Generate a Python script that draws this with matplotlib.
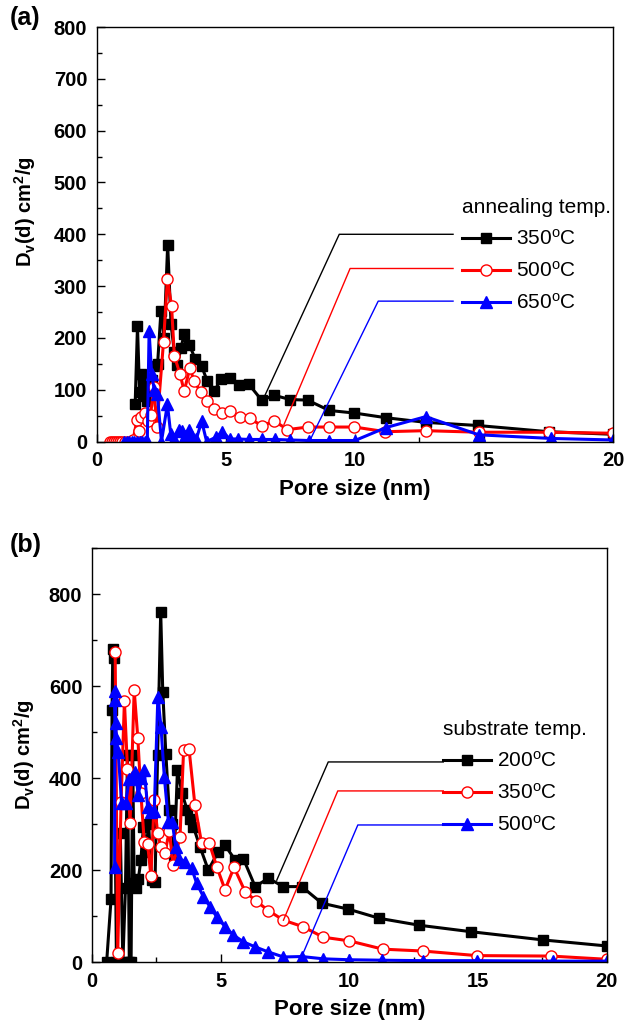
import matplotlib
matplotlib.use("Agg")
import matplotlib.pyplot as plt
from matplotlib.ticker import MultipleLocator

plt.rcParams['font.family'] = ['Liberation Sans', 'DejaVu Sans']
plt.rcParams['mathtext.fontset'] = 'custom'
plt.rcParams['mathtext.rm'] = 'Liberation Sans'
plt.rcParams['mathtext.it'] = 'Liberation Sans:italic'
plt.rcParams['mathtext.bf'] = 'Liberation Sans:bold'

# ---- panel (a): annealing temperature ----
a350_x = [1.48, 1.57, 1.65, 1.72, 1.78, 1.85, 1.93, 2.02, 2.12, 2.22, 2.35, 2.48, 2.6, 2.74, 2.87,
          3.0, 3.12, 3.25, 3.38, 3.58, 3.8, 4.06, 4.28, 4.54, 4.82, 5.16, 5.5, 5.88, 6.38, 6.88,
          7.5, 8.16, 9.0, 9.98, 11.2, 12.75, 14.75, 17.5, 20.0]
a350_y = [72, 223, 95, 130, 88, 115, 78, 100, 118, 145, 150, 252, 200, 380, 227,
          172, 148, 180, 207, 187, 160, 145, 116, 97, 121, 123, 110, 111, 80, 89,
          81, 80, 60, 55, 46, 37, 31, 19, 14]

a500_x = [0.5, 0.58, 0.66, 0.74, 0.82, 0.9, 0.98, 1.1, 1.25, 1.4, 1.55, 1.63, 1.72, 1.85, 1.97,
          2.08, 2.2, 2.32, 2.58, 2.73, 2.89, 3.0, 3.22, 3.38, 3.6, 3.77, 4.03, 4.25, 4.54, 4.84,
          5.15, 5.54, 5.93, 6.39, 6.87, 7.38, 8.17, 9.0, 9.98, 11.18, 12.74, 14.8, 17.5, 20.0]
a500_y = [0, 0, 0, 0, 0, 0, 0, 0, 0, 3, 42, 20, 48, 55, 40,
          52, 106, 29, 193, 314, 262, 165, 130, 97, 142, 116, 95, 79, 62, 56,
          58, 48, 45, 30, 40, 23, 28, 28, 28, 19, 21, 18, 18, 16]

a650_x = [1.05, 1.15, 1.25, 1.35, 1.45, 1.55, 1.65, 1.75, 1.85, 1.95, 2.02, 2.12, 2.22, 2.34,
          2.5, 2.73, 2.86, 3.0, 3.16, 3.3, 3.42, 3.55, 3.7, 3.85, 4.06, 4.25, 4.6, 4.86, 5.15,
          5.45, 5.9, 6.4, 6.9, 7.5, 8.2, 9.0, 10.0, 11.2, 12.74, 14.8, 17.6, 20.0]
a650_y = [0, 0, 0, 0, 0, 0, 0, 0, 0, 2, 213, 130, 100, 91,
          0, 72, 14, 5, 23, 20, 10, 23, 8, 5, 39, 0, 8, 19, 5,
          5, 4, 4, 4, 3, 2, 2, 2, 27, 48, 13, 6, 3]

# ---- panel (b): substrate temperature ----
b200_x = [0.57, 0.74, 0.78, 0.81, 0.84, 0.95, 1.1, 1.2, 1.3, 1.38, 1.45, 1.52, 1.58, 1.64, 1.72,
          1.8, 1.9, 2.0, 2.1, 2.2, 2.32, 2.45, 2.55, 2.67, 2.75, 2.87, 3.0, 3.1, 3.2, 3.32,
          3.5, 3.7, 3.81, 3.94, 4.2, 4.52, 4.91, 5.17, 5.56, 5.88, 6.34, 6.85, 7.44, 8.15,
          8.93, 9.96, 11.17, 12.72, 14.72, 17.54, 20.0]
b200_y = [0, 136, 548, 680, 660, 0, 280, 0, 160, 450, 0, 0, 450, 171, 160,
          180, 222, 294, 240, 301, 178, 175, 450, 762, 588, 453, 330, 301, 233, 417,
          367, 330, 312, 294, 250, 200, 240, 254, 222, 225, 164, 182, 164, 164,
          128, 115, 95, 80, 66, 48, 35]

b350_x = [0.9, 1.0, 1.13, 1.26, 1.38, 1.48, 1.64, 1.78, 1.9, 2.03, 2.16, 2.29, 2.42, 2.55, 2.68,
          2.84, 3.0, 3.16, 3.42, 3.56, 3.77, 4.0, 4.26, 4.56, 4.85, 5.17, 5.52, 5.95, 6.37, 6.85,
          7.44, 8.19, 8.99, 10.0, 11.3, 12.85, 14.95, 17.83, 20.0]
b350_y = [675, 19, 348, 567, 420, 303, 591, 488, 367, 262, 257, 187, 352, 280, 250,
          237, 285, 211, 272, 461, 464, 341, 258, 258, 207, 157, 206, 153, 133, 112,
          91, 77, 54, 46, 28, 24, 14, 13, 6]

b500_x = [0.88, 0.89, 0.9, 0.92, 0.95, 1.02, 1.15, 1.31, 1.45, 1.56, 1.68, 1.8, 1.92, 2.03, 2.16,
          2.3, 2.42, 2.56, 2.68, 2.81, 2.97, 3.12, 3.25, 3.38, 3.61, 3.87, 4.07, 4.33, 4.59, 4.85,
          5.17, 5.49, 5.88, 6.34, 6.85, 7.44, 8.15, 8.99, 10.0, 11.26, 12.85, 14.95, 17.9, 20.0]
b500_y = [207, 590, 570, 520, 486, 457, 345, 346, 399, 403, 414, 363, 400, 417, 338,
          327, 329, 577, 512, 403, 305, 305, 250, 225, 218, 204, 171, 142, 120, 98,
          77, 59, 44, 33, 22, 11, 12, 7, 5, 4, 3, 3, 2, 2]

labels_a = [r'350$^{\mathrm{o}}$C', r'500$^{\mathrm{o}}$C', r'650$^{\mathrm{o}}$C']
labels_b = [r'200$^{\mathrm{o}}$C', r'350$^{\mathrm{o}}$C', r'500$^{\mathrm{o}}$C']

# leader lines from legend entries to curves (data coords)
lead_a = [([13.8, 9.39, 6.5], [400, 400, 88]),
          ([13.8, 9.81, 7.25], [334, 334, 33]),
          ([13.8, 10.9, 8.26], [271, 271, 3])]
lead_b = [([13.65, 9.18, 7.18], [435, 435, 178]),
          ([13.65, 9.55, 7.44], [372, 372, 91]),
          ([13.65, 10.33, 8.15], [298, 298, 12])]

colors = ['black', 'red', 'blue']
styles = [dict(marker='s', ms=6.5, mfc='black', mec='black'),
          dict(marker='o', ms=8, mfc='white', mec='red', mew=1.0),
          dict(marker='^', ms=8, mfc='blue', mec='blue')]

fig = plt.figure(figsize=(6.24, 10.24), dpi=100)
ax1 = fig.add_axes([0.1554, 0.5688, 0.827, 0.4048])
ax2 = fig.add_axes([0.1474, 0.0605, 0.8249, 0.4043])


def draw(ax, series, labels, leads, title, ymax, ymaj, ymin, leg_xy, ylab_xy):
    handles = []
    for (xs, ys), c, st, lab in zip(series, colors, styles, labels):
        h, = ax.plot(xs, ys, color=c, lw=2.2, label=lab, **st)
        handles.append(h)
    for (lx, ly), c in zip(leads, colors):
        ax.plot(lx, ly, color=c, lw=1.0)
    ax.set_xlim(0, 20)
    ax.set_ylim(0, ymax)
    ax.xaxis.set_major_locator(MultipleLocator(5))
    ax.xaxis.set_minor_locator(MultipleLocator(2.5))
    ax.yaxis.set_major_locator(MultipleLocator(ymaj))
    ax.yaxis.set_minor_locator(MultipleLocator(ymin))
    ax.tick_params(which='both', direction='in', top=False, right=False)
    ax.tick_params(which='major', length=6, width=1, labelsize=14.5, pad=7)
    ax.tick_params(which='minor', length=3.5, width=1)
    for lbl in ax.get_xticklabels() + ax.get_yticklabels():
        lbl.set_fontweight('bold')
    for sp in ax.spines.values():
        sp.set_linewidth(1.0)
    ax.set_xlabel('Pore size (nm)', fontsize=16, fontweight='bold', labelpad=6)
    ax.set_ylabel(r'D$_\mathbf{v}$(d) cm$^\mathbf{2}$/g', fontsize=14.5, fontweight='bold')
    ax.yaxis.set_label_coords(*ylab_xy)
    ax.legend(handles=handles, loc='upper left', bbox_to_anchor=leg_xy, frameon=False,
              title=title, title_fontsize=15, fontsize=15, alignment='left',
              handlelength=2.3, handletextpad=0.3, labelspacing=0.57,
              borderpad=0, borderaxespad=0, numpoints=1)


draw(ax1, [(a350_x, a350_y), (a500_x, a500_y), (a650_x, a650_y)], labels_a, lead_a,
     'annealing temp.', 800, 100, 50, (0.707, 0.587), (-0.115, 0.554))
draw(ax2, [(b200_x, b200_y), (b350_x, b350_y), (b500_x, b500_y)], labels_b, lead_b,
     'substrate temp.', 900, 200, 100, (0.682, 0.584), (-0.106, 0.5))

fig.text(0.016, 0.982, '(a)', fontsize=18, fontweight='bold', va='center', ha='left')
fig.text(0.016, 0.468, '(b)', fontsize=18, fontweight='bold', va='center', ha='left')

fig.savefig('out.png', dpi=100)
